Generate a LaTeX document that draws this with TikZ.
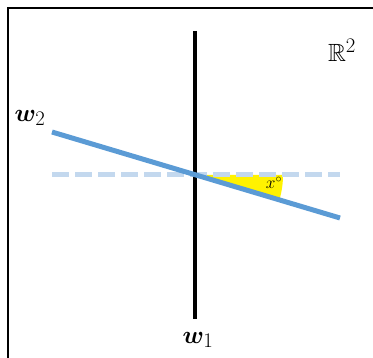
\documentclass[tikz,border=0pt]{standalone}
\usepackage{amsmath,amssymb,bm}
\usepackage{xcolor}
\usepackage{tikz}
\usetikzlibrary{positioning}

\definecolor{axblue}{HTML}{5B9BD5}
\definecolor{axpale}{HTML}{C3D8EE}

\begin{document}
\begin{tikzpicture}[x=1pt, y=-1pt,
  axis/.style={line width=4pt, black},
  rot/.style={line width=5pt, axblue},
  ref/.style={line width=5pt, axpale, dash pattern=on 17pt off 6pt},
  lab/.style={font=\Huge, inner sep=0pt}]
\useasboundingbox (0,0) rectangle (373,358);
\clip (0,0) rectangle (373,358);
% ---- frame (only left and top edges show) ----
\draw[line width=1.5pt] (8,8) rectangle (390,380);
% ---- points ----
\coordinate (o) at (195,175);
\coordinate (w1top) at (195,31);
\coordinate (w1bot) at (195,319);
\coordinate (w2l) at (52,132);
\coordinate (w2r) at (340,218);
\coordinate (refl) at (52,175);
\coordinate (refr) at (340,175);
% ---- angle sector ----
\fill[yellow] (o) -- ++(0:88) arc[start angle=0, end angle=16.6, radius=88] -- cycle;
% ---- lines ----
\draw[ref] (refl) -- (refr);
\draw[axis] (w1top) -- (w1bot);
\draw[rot] (w2l) -- (w2r);
% ---- labels ----
\node[lab] (w2lab) at (30,118) {$\bm{w}_2$};
\node[lab] (w1lab) at (198,340) {$\bm{w}_1$};
\node[font=\Huge, inner sep=0pt] (space) at (342,50) {$\mathbb{R}^2$};
\node[font=\LARGE, inner sep=0pt] (ang) at (274,183) {$x^\circ$};
\end{tikzpicture}
\end{document}
